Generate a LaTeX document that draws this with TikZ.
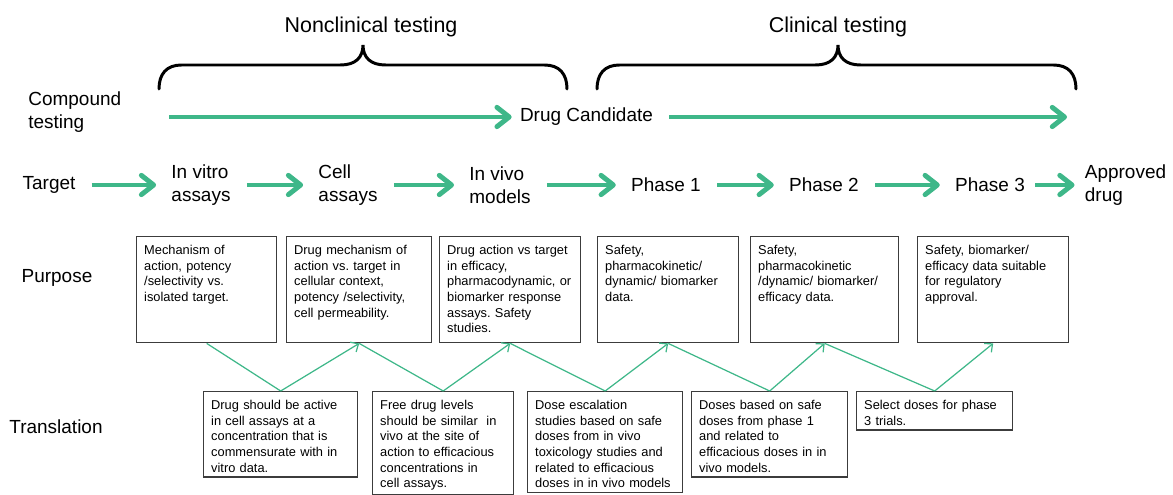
\documentclass[tikz,border=0pt]{standalone}
\usepackage{fontspec}
\setmainfont{Liberation Sans}
\usetikzlibrary{arrows.meta}
\definecolor{flowgreen}{RGB}{62,183,137}
\definecolor{boxgray}{RGB}{60,60,60}
\frenchspacing

\begin{document}
\begin{tikzpicture}[stage/.style={inner sep=0, align=left, font=\fontsize{10.8}{12.8}\selectfont},
	heading/.style={inner sep=0, anchor=base, font=\fontsize{12.2}{14}\selectfont},
	purpose/.style={draw=boxgray, line width=0.8pt, anchor=north west, text width=#1, align=left, inner xsep=0.15cm, inner ysep=0.09cm, text height=0.27cm, text depth=1.67cm, font=\fontsize{7.3}{8.9}\selectfont},
	trans/.style={draw=boxgray, line width=0.8pt, anchor=north west, text width=#1, align=left, inner xsep=0.15cm, inner ysep=0.09cm, text height=0.27cm, font=\fontsize{7.3}{8.9}\selectfont},
	flow/.style={flowgreen, line width=2.8pt, -{Straight Barb[length=7pt,width=11pt,round]}, shorten <=0.32cm, shorten >=0.3cm},
	link/.style={flowgreen, line width=0.7pt, >={Straight Barb[length=3.5pt,width=6.5pt]}},
	brace/.style={line width=1.7pt, line cap=round}]
	\useasboundingbox (0,0) rectangle (23.46,9.9);
	% headings and braces
	\node[heading] (ncl) at (7.42,9.24) {Nonclinical testing};
	\node[heading] (cln) at (16.76,9.24) {Clinical testing};
	\draw[brace] (3.18,8.12) .. controls (3.18,8.42) and (3.33,8.6) .. (3.63,8.6) -- (6.81,8.6) .. controls (7.11,8.6) and (7.26,8.75) .. (7.26,9.0) .. controls (7.26,8.75) and (7.41,8.6) .. (7.71,8.6) -- (10.89,8.6) .. controls (11.19,8.6) and (11.34,8.42) .. (11.34,8.12);
	\draw[brace] (11.94,8.12) .. controls (11.94,8.42) and (12.09,8.6) .. (12.39,8.6) -- (16.31,8.6) .. controls (16.61,8.6) and (16.76,8.75) .. (16.76,9.0) .. controls (16.76,8.75) and (16.91,8.6) .. (17.21,8.6) -- (21.07,8.6) .. controls (21.37,8.6) and (21.52,8.42) .. (21.52,8.12);
	% compound testing
	\node[stage, anchor=west] (cmp) at (0.56,7.66) {Compound\\testing};
	\node[stage] (cand) at (11.73,7.56) {Drug Candidate};
	\coordinate (cstart) at (3.38,7.56);
	\coordinate (cend) at (21.34,7.56);
	\draw[flow, shorten <=0pt, shorten >=0.16cm] (cstart) -- (cand);
	\draw[flow, shorten >=0pt] (cand) -- (cend);
	% stages
	\node[stage] (tar) at (0.98,6.2) {Target};
	\node[stage] (vit) at (4.02,6.2) {In vitro\\assays};
	\node[stage] (cel) at (6.96,6.2) {Cell\\assays};
	\node[stage] (viv) at (10.0,6.2) {In vivo\\models};
	\node[stage] (ph1) at (13.32,6.2) {Phase 1};
	\node[stage] (ph2) at (16.48,6.2) {Phase 2};
	\node[stage] (ph3) at (19.8,6.2) {Phase 3};
	\node[stage] (app) at (22.51,6.2) {Approved\\drug};
	\draw[flow] (tar) -- (vit);
	\draw[flow] (vit) -- (cel);
	\draw[flow] (cel) -- (viv);
	\draw[flow] (viv) -- (ph1);
	\draw[flow] (ph1) -- (ph2);
	\draw[flow] (ph2) -- (ph3);
	\draw[flow, shorten <=0.2cm, shorten >=0.2cm] (ph3) -- (app);
	% purpose
	\node[stage] (pur) at (1.14,4.34) {Purpose};
	\node[purpose=2.5cm] (pu1) at (2.72,5.18) {Mechanism of\\action, potency\\/selectivity vs.\\isolated target.};
	\node[purpose=2.6cm] (pu2) at (5.72,5.18) {Drug mechanism of\\action vs. target in\\cellular context,\\potency /selectivity,\\cell permeability.};
	\node[purpose=2.52cm] (pu3) at (8.78,5.18) {Drug action vs target\\in efficacy,\\pharmacodynamic, or\\biomarker response\\assays. Safety\\studies.};
	\node[purpose=2.52cm] (pu4) at (11.94,5.18) {Safety,\\pharmacokinetic/\\dynamic/ biomarker\\data.};
	\node[purpose=2.66cm] (pu5) at (15.0,5.18) {Safety,\\pharmacokinetic\\/dynamic/ biomarker/\\efficacy data.};
	\node[purpose=2.72cm] (pu6) at (18.34,5.18) {Safety, biomarker/\\efficacy data suitable\\for regulatory\\approval.};
	% translation
	\node[stage] (tra) at (1.12,1.36) {Translation};
	\node[trans=2.78cm] (tr1) at (4.06,2.08) {Drug should be active\\in cell assays at a\\concentration that is\\commensurate with in\\vitro data.};
	\node[trans=2.52cm] (tr2) at (7.44,2.08) {Free drug levels\\should be similar~ in\\vivo at the site of\\action to efficacious\\concentrations in\\cell assays.};
	\node[trans=2.8cm] (tr3) at (10.54,2.08) {Dose escalation\\studies based on safe\\doses from in vivo\\toxicology studies and\\related to efficacious\\doses in in vivo models};
	\node[trans=2.82cm] (tr4) at (13.82,2.08) {Doses based on safe\\doses from phase 1\\and related to\\efficacious doses in in\\vivo models.};
	\node[trans=2.82cm] (tr5) at (17.12,2.08) {Select doses for phase\\3 trials.};
	\draw[link] (pu1.south) -- (tr1.north);
	\draw[link, ->] (tr1.north) -- (pu2.south);
	\draw[link] (pu2.south) -- (tr2.north);
	\draw[link, ->] (tr2.north) -- (pu3.south);
	\draw[link] (pu3.south) -- (tr3.north);
	\draw[link, ->] (tr3.north) -- (pu4.south);
	\draw[link] (pu4.south) -- (tr4.north);
	\draw[link, ->] (tr4.north) -- (pu5.south);
	\draw[link] (pu5.south) -- (tr5.north);
	\draw[link, ->] (tr5.north) -- (pu6.south);
\end{tikzpicture}
\end{document}
